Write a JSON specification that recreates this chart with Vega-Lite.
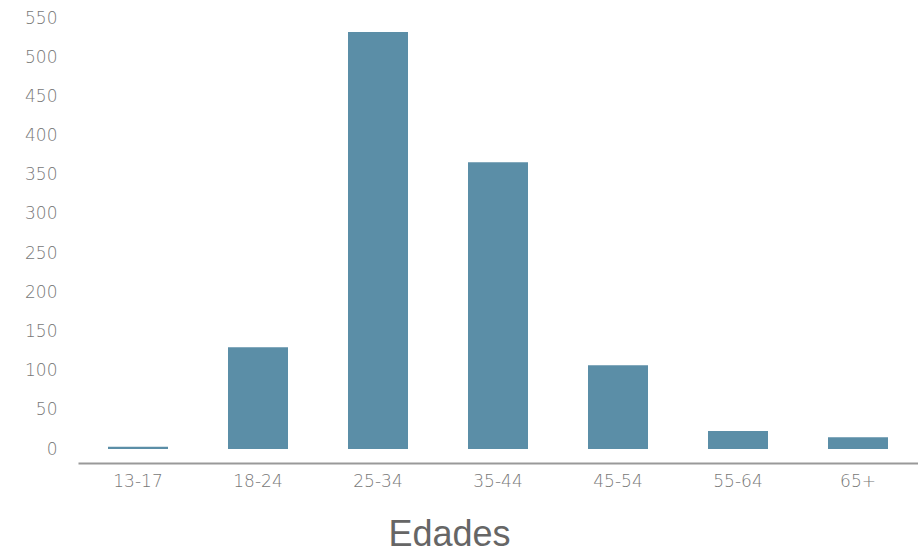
{
  "$schema": "https://vega.github.io/schema/vega-lite/v6.json",
  "width": 840,
  "height": 431,
  "autosize": {"type": "none"},
  "padding": {"left": 78, "top": 18, "right": 0, "bottom": 109},
  "background": "white",
  "data": {"values": [
    {"edad": "13-17", "n": 3},
    {"edad": "18-24", "n": 130},
    {"edad": "25-34", "n": 532},
    {"edad": "35-44", "n": 366},
    {"edad": "45-54", "n": 107},
    {"edad": "55-64", "n": 23},
    {"edad": "65+", "n": 15}
  ]},
  "config": {"view": {"stroke": null}},
  "mark": {"type": "bar", "color": "#5b8ea7"},
  "encoding": {
    "x": {
      "field": "edad", "type": "nominal", "sort": null,
      "scale": {"paddingInner": 0.5, "paddingOuter": 0.25},
      "axis": {
        "title": "Edades", "labelAngle": 0, "ticks": false,
        "domainColor": "#999999", "domainWidth": 2, "offset": 14,
        "labelFont": "DejaVu Sans", "labelFontSize": 17, "labelFontWeight": 200, "labelColor": "#777777", "labelPadding": 10,
        "titleFont": "Liberation Sans", "titleFontSize": 36, "titleFontWeight": "normal", "titleColor": "#666666", "titlePadding": 28,
        "titleX": 371, "titleAlign": "center"
      }
    },
    "y": {
      "field": "n", "type": "quantitative",
      "scale": {"domain": [0, 550], "nice": false},
      "axis": {
        "title": null, "domain": false, "ticks": false, "grid": false,
        "values": [0,50,100,150,200,250,300,350,400,450,500,550],
        "labelFont": "DejaVu Sans", "labelFontSize": 17, "labelFontWeight": 200, "labelColor": "#777777", "labelPadding": 21
      }
    }
  }
}
